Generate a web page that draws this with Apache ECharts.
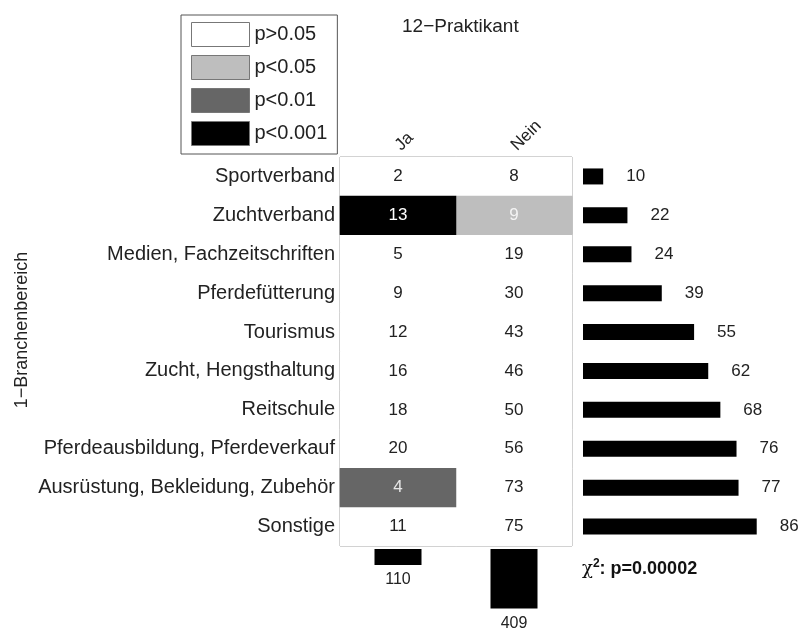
<!DOCTYPE html>
<html lang="de">
<head>
    <meta charset="UTF-8" />
    <title>12-Praktikant</title>
    <script src="https://cdn.jsdelivr.net/npm/echarts@6/dist/echarts.min.js"></script>
</head>
<body style="margin:0; background:#fff;">
    <div id="main" style="width: 800px; height: 628px"></div>
    <script>
        // Daten
        var rows = ["Sportverband", "Zuchtverband", "Medien, Fachzeitschriften", "Pferdefütterung", "Tourismus",
            "Zucht, Hengsthaltung", "Reitschule", "Pferdeausbildung, Pferdeverkauf",
            "Ausrüstung, Bekleidung, Zubehör", "Sonstige"];
        var cols = ["Ja", "Nein"];
        var ja = [2, 13, 5, 9, 12, 16, 18, 20, 4, 11];
        var nein = [8, 9, 19, 30, 43, 46, 50, 56, 73, 75];
        // p-Stufe je Zelle: 0 = p>0.05, 1 = p<0.05, 2 = p<0.01, 3 = p<0.001
        var pJa = [0, 3, 0, 0, 0, 0, 0, 0, 2, 0];
        var pNein = [0, 1, 0, 0, 0, 0, 0, 0, 0, 0];
        var rowTotals = [10, 22, 24, 39, 55, 62, 68, 76, 77, 86];
        var colTotals = [110, 409];
        var levels = ["p>0.05", "p<0.05", "p<0.01", "p<0.001"];
        var levelColors = ["#ffffff", "#bebebe", "#666666", "#000000"];
        var levelText = ["#222222", "#f4f4f4", "#e6e6e6", "#ffffff"];

        var font = "Liberation Sans, Arial, sans-serif";

        // eine Heatmap-Serie je p-Stufe (damit die Legende passt)
        var heatSeries = levels.map(function (name, k) {
            var data = [];
            for (var i = 0; i < rows.length; i++) {
                if (pJa[i] === k) data.push([0, i, ja[i]]);
                if (pNein[i] === k) data.push([1, i, nein[i]]);
            }
            return {
                name: name,
                type: "heatmap",
                xAxisIndex: 0,
                yAxisIndex: 0,
                data: data,
                itemStyle: { color: levelColors[k] },
                label: {
                    show: true,
                    fontSize: 17,
                    fontFamily: font,
                    color: levelText[k],
                    formatter: function (p) { return p.value[2]; }
                },
                emphasis: { disabled: true }
            };
        });

        var myChart = echarts.init(document.getElementById("main"));

        var option = {
            animation: false,
            textStyle: { fontFamily: font },
            title: {
                text: "12\u2212Praktikant",
                left: 397,
                top: 12,
                textStyle: { fontSize: 19, fontWeight: "normal", color: "#222" }
            },
            legend: {
                data: levels,
                orient: "vertical",
                left: 181,
                top: 15,
                padding: [7, 10, 8, 10],
                itemWidth: 58,
                itemHeight: 24,
                itemGap: 8,
                icon: "rect",
                borderColor: "#555",
                borderWidth: 1,
                selectedMode: false,
                itemStyle: { borderColor: "#777", borderWidth: 1 },
                textStyle: { fontSize: 20, color: "#222", fontFamily: font }
            },
            grid: [
                { left: 340, top: 157, width: 232, height: 389, show: true, borderColor: "#8a8a8a", borderWidth: 1, backgroundColor: "#fff" },
                { left: 583, top: 157, width: 202, height: 389 },
                { left: 340, top: 549, width: 232, height: 61 }
            ],
            xAxis: [
                {
                    gridIndex: 0, type: "category", data: cols, position: "top",
                    axisLine: { show: false }, axisTick: { show: false }, splitLine: { show: false },
                    axisLabel: { rotate: -45, fontSize: 17, color: "#222", margin: 9 }
                },
                { gridIndex: 1, type: "value", min: 0, max: 100, show: false },
                { gridIndex: 2, type: "category", data: cols, show: false }
            ],
            yAxis: [
                {
                    gridIndex: 0, type: "category", data: rows, inverse: true,
                    axisLine: { show: false }, axisTick: { show: false }, splitLine: { show: false },
                    axisLabel: { fontSize: 20, color: "#222", margin: 5 }
                },
                { gridIndex: 1, type: "category", data: rows, inverse: true, show: false },
                { gridIndex: 2, type: "value", min: 0, max: 420, inverse: true, show: false }
            ],
            graphic: [
                {
                    type: "text", x: 22, y: 330, rotation: Math.PI / 2,
                    style: {
                        text: "1\u2212Branchenbereich", font: "18px " + font, fill: "#222",
                        textAlign: "center", textVerticalAlign: "middle"
                    }
                },
                {
                    type: "text", x: 582, y: 569,
                    style: {
                        text: "{chi|\u03c7}{sup|2}{b|: p=0.00002}",
                        textVerticalAlign: "middle",
                        rich: {
                            chi: { fontSize: 18, fontFamily: "DejaVu Serif, serif", fill: "#111" },
                            sup: { fontSize: 12, fontWeight: "bold", fontFamily: font, fill: "#111", padding: [0, 0, 10, 0] },
                            b: { fontSize: 18, fontWeight: "bold", fontFamily: font, fill: "#111" }
                        }
                    }
                }
            ],
            series: heatSeries.concat([
                {
                    name: "Zeilensumme",
                    type: "bar",
                    xAxisIndex: 1,
                    yAxisIndex: 1,
                    data: rowTotals,
                    barWidth: 16,
                    itemStyle: { color: "#000" },
                    label: { show: true, position: "right", distance: 23, fontSize: 17, color: "#222" },
                    emphasis: { disabled: true }
                },
                {
                    name: "Spaltensumme",
                    type: "bar",
                    xAxisIndex: 2,
                    yAxisIndex: 2,
                    data: colTotals,
                    barWidth: 47,
                    itemStyle: { color: "#000" },
                    label: { show: true, position: "bottom", distance: 7, fontSize: 16, color: "#222" },
                    emphasis: { disabled: true }
                }
            ])
        };

        myChart.setOption(option);
    </script>
</body>
</html>
